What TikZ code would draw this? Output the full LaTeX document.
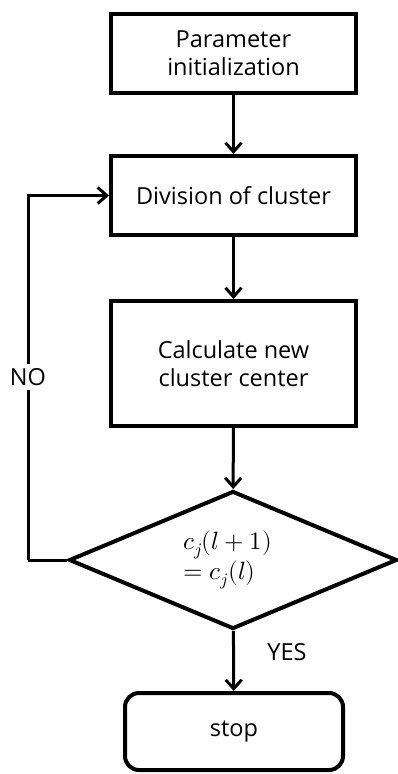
\documentclass[tikz,border=0pt]{standalone}
\usepackage{fontspec}
\usepackage{unicode-math}
\setmainfont{Open Sans}
\setmathfont{Latin Modern Math}
\usetikzlibrary{shapes.geometric,arrows.meta}
\begin{document}
\begin{tikzpicture}[x=1pt,y=-1pt,
  box/.style={draw,line width=4pt,rectangle,minimum width=245pt,inner sep=0pt,align=center,font=\fontsize{23.5}{28}\selectfont},
  stopbox/.style={draw,line width=4pt,rectangle,rounded corners=14pt,minimum width=218pt,minimum height=77pt,inner sep=0pt,font=\fontsize{23.5}{28}\selectfont},
  decision/.style={draw,line width=4pt,diamond,aspect=2.38,minimum width=328pt,minimum height=138pt,inner sep=0pt,align=left},
  flow/.style={line width=3pt,-{Straight Barb[length=9pt,width=16pt,line width=3pt]}},
  lbl/.style={font=\fontsize{23.5}{28}\selectfont,inner sep=1pt}]
\useasboundingbox (0,0) rectangle (398,774);
\node[box,minimum height=79pt] (init) at (233.5,53.5) {Parameter\\initialization};
\node[box,minimum height=79pt] (div) at (233.5,195.5) {Division of cluster};
\node[box,minimum height=125pt] (calc) at (233.5,363.5) {Calculate new\\cluster center};
\node[decision] (dec) at (233,560) {};
\node[anchor=west,align=left,font=\fontsize{25}{30}\selectfont,inner sep=0pt] (eq) at (183,560) {$c_j(l+1)$\\$=c_j(l)$};
\node[stopbox] (stop) at (234,731.5) {stop};
\coordinate (lb) at (28,560);
\coordinate (lt) at (28,195.5);
\draw[flow] (init) -- (div);
\draw[flow] (div) -- (calc);
\draw[flow] (calc) -- (dec);
\draw[flow] (dec) -- (stop);
\draw[line width=3pt] (dec.west) -- (lb);
\draw[flow] (lb) -- (lt) -- (div.west);
\node[lbl,fill=white,inner sep=4pt] (no) at (28,377) {NO};
\node[lbl] (yes) at (287,652) {YES};
\end{tikzpicture}
\end{document}
